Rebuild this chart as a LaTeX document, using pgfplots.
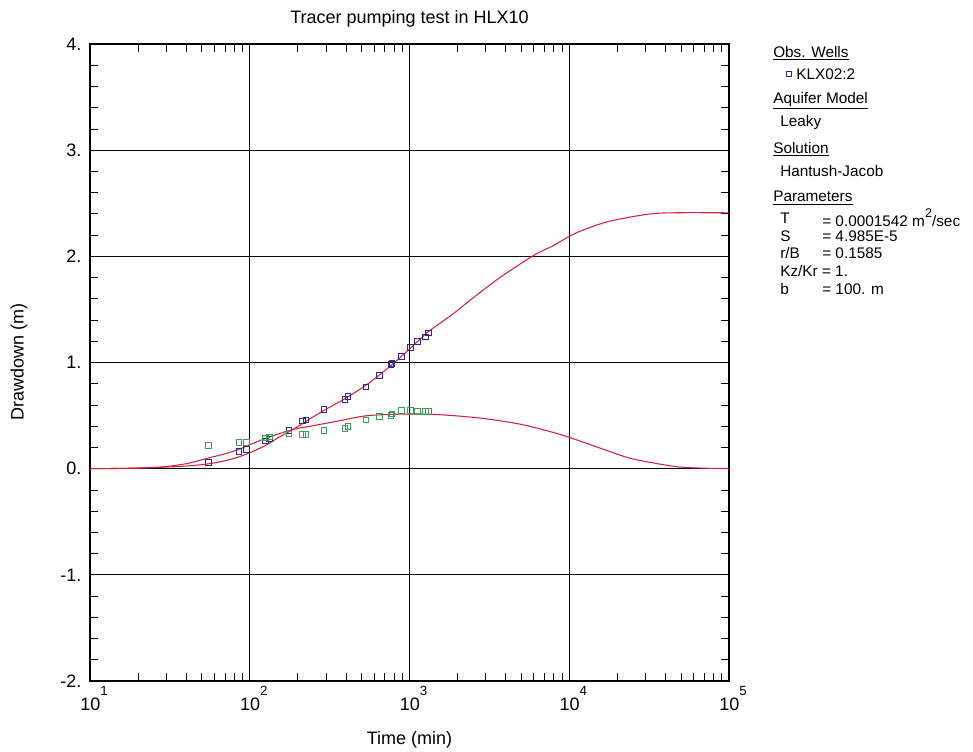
\documentclass[border=0pt]{standalone}
\usepackage{pgfplots}
\pgfplotsset{compat=1.18}
\usepackage{fontspec}
\setmainfont{Liberation Sans}
\definecolor{curvered}{RGB}{208,36,60}
\definecolor{navyblue}{RGB}{45,40,140}
\definecolor{ptgreen}{RGB}{60,155,85}
\newcommand{\tenp}[1]{10\raisebox{0.82em}{\fontsize{10}{11}\selectfont #1}}
\begin{document}
\begin{tikzpicture}
\begin{axis}[
  scale only axis, width=479.25pt, height=477.75pt,
  xmode=log, xmin=10, xmax=100000, ymin=-2, ymax=4,
  xtick={10,100,1000,10000,100000},
  xticklabels={\tenp{1},\tenp{2},\tenp{3},\tenp{4},\tenp{5}},
  minor xtick={20,30,40,50,60,70,80,90,200,300,400,500,600,700,800,900,2000,3000,4000,5000,6000,7000,8000,9000,20000,30000,40000,50000,60000,70000,80000,90000},
  ytick={-2,-1,0,1,2,3,4},
  yticklabels={-2.,-1.,0.,1.,2.,3.,4.},
  minor y tick num=4,
  grid=major,
  major grid style={black, line width=0.8pt},
  tick align=inside,
  major tick length=0pt,
  minor tick length=6pt,
  axis line style={line width=0.9pt},
  every tick/.style={black, line width=0.6pt},
  ticklabel style={font=\fontsize{13.5}{16}\selectfont},
  xticklabel style={yshift=-0.5pt, xshift=3pt},
  yticklabel style={xshift=-3pt},
  clip=true,
]
\addplot[curvered, line width=0.8pt, smooth] coordinates {
(10,0) (15,0.002) (20,0.006) (30,0.015) (41,0.026) (55,0.045) (70,0.075) (85,0.11) (100,0.15)
(125,0.217) (150,0.29) (187,0.37) (230,0.455) (292,0.55) (400,0.665) (550,0.80) (770,0.975)
(1000,1.127) (1164,1.22) (1335,1.30) (1880,1.46) (2506,1.61) (3680,1.80) (5946,2.006)
(7930,2.10) (9770,2.18) (12300,2.25) (17800,2.33) (30500,2.395) (44000,2.41) (100000,2.41)
};
\addplot[curvered, line width=0.8pt, smooth] coordinates {
(10,0) (15,0.002) (20,0.006) (25.5,0.012) (30,0.02) (41,0.05) (55,0.10) (70,0.14) (85,0.18)
(100,0.226) (134,0.30) (187,0.37) (250,0.405) (360,0.45) (550,0.50) (1000,0.515) (1550,0.508)
(2760,0.477) (4890,0.42) (7550,0.35) (9770,0.30) (14100,0.217) (23000,0.106) (32000,0.06)
(51000,0.013) (100000,0.0)
};
\addplot[only marks, mark=square, mark size=2.1pt, navyblue, mark options={line width=0.6pt}] coordinates {
(55.3,0.06) (85.7,0.16) (95.1,0.18) (125,0.26) (133,0.28) (176,0.36) (214,0.45) (224,0.46)
(292,0.56) (394,0.65) (411,0.68) (533,0.77) (649,0.88) (764,0.98) (778,0.99) (886,1.06)
(1012,1.14) (1125,1.20) (1262,1.24) (1309,1.28)
};
\addplot[only marks, mark=square, mark size=2.1pt, ptgreen, mark options={line width=0.6pt}] coordinates {
(55.3,0.22) (85.7,0.245) (95.1,0.25) (125,0.29) (133,0.30) (176,0.33) (214,0.32) (224,0.32)
(292,0.36) (394,0.38) (411,0.40) (533,0.46) (649,0.49) (764,0.50) (778,0.515) (886,0.55)
(1012,0.55) (1125,0.54) (1262,0.54) (1309,0.54)
};
\end{axis}
\begin{scope}[shift={(-67.5pt,510.75pt)}, x=0.75pt, y=-0.75pt]
\useasboundingbox (0,0) rectangle (973,751);
\node[font=\fontsize{13.5}{16}\selectfont] at (409.5,19) {Tracer pumping test in HLX10};
\node[font=\fontsize{13.5}{16}\selectfont] at (409.5,740) {Time (min)};
\node[font=\fontsize{13.5}{16}\selectfont, rotate=90] at (19,362) {Drawdown (m)};
\begin{scope}[every node/.style={anchor=west, inner sep=0pt, font=\fontsize{11.5}{13}\selectfont}]
\node at (773,53) {\underline{Obs. Wells}};
\draw[navyblue, line width=0.5pt] (786,71) rectangle (791,76);
\node at (796,74) {KLX02:2};
\node at (773,101) {\underline{Aquifer Model}};
\node at (780,123) {Leaky};
\node at (773,149) {\underline{Solution}};
\node at (780,171) {Hantush-Jacob};
\node at (773,198) {\underline{Parameters}};
\node at (780,218) {T};
\node at (822,218) {= 0.0001542 m\raisebox{0.6em}{\fontsize{9.5}{10}\selectfont 2}/sec};
\node at (780,236) {S};
\node at (822,236) {= 4.985E-5};
\node at (780,253) {r/B};
\node at (822,253) {= 0.1585};
\node at (780,271) {Kz/Kr = 1.};
\node at (780,289) {b};
\node at (822,289) {= 100. m};
\end{scope}
\end{scope}
\end{tikzpicture}
\end{document}
